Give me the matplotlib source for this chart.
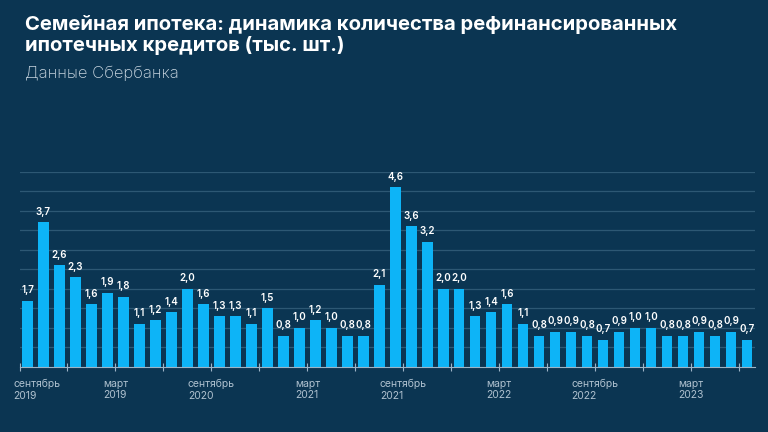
import matplotlib.pyplot as plt

# monthly values, September 2019 .. June 2023 (thousand loans)
values = [
    1.7, 3.7, 2.6, 2.3, 1.6, 1.9, 1.8, 1.1, 1.2, 1.4,
    2.0, 1.6, 1.3, 1.3, 1.1, 1.5, 0.8, 1.0, 1.2, 1.0,
    0.8, 0.8, 2.1, 4.6, 3.6, 3.2, 2.0, 2.0, 1.3, 1.4,
    1.6, 1.1, 0.8, 0.9, 0.9, 0.8, 0.7, 0.9, 1.0, 1.0,
    0.8, 0.8, 0.9, 0.8, 0.9, 0.7,
]

# period labels under the axis (every six months, as in the source)
period_labels = [
    "сентябрь\n2019", "март\n2019", "сентябрь\n2020", "март\n2021",
    "сентябрь\n2021", "март\n2022", "сентябрь\n2022", "март\n2023",
]

title = "Семейная ипотека: динамика количества рефинансированных\nипотечных кредитов (тыс. шт.)"
subtitle = "Данные Сбербанка"

bg = "#0b3552"
bar_color = "#0db4f7"
grid_color = "#2d5874"

plt.rcParams["font.family"] = ["Inter", "DejaVu Sans"]

fig = plt.figure(figsize=(7.68, 4.32), dpi=100)
fig.patch.set_facecolor(bg)

ax = fig.add_axes([0.0254, 0.1505, 0.9577, 0.452])
ax.set_facecolor("none")

x = list(range(len(values)))
ax.bar(x, values, width=0.66, color=bar_color, zorder=3)

for xi, v in zip(x, values):
    ax.annotate(
        f"{v:.1f}".replace(".", ","),
        (xi, v),
        xytext=(0, 4),
        textcoords="offset points",
        ha="center",
        va="bottom",
        color="white",
        fontsize=7.1,
        fontweight="semibold",
        zorder=4,
        clip_on=False,
    )

ax.set_xlim(-0.5, len(values) - 0.5)
ax.set_ylim(0, 5)

ax.set_yticks([i * 0.5 for i in range(1, 11)])
ax.yaxis.grid(True, color=grid_color, linewidth=0.9, zorder=0)
ax.tick_params(axis="y", left=False, labelleft=False)

ax.set_xticks([i - 0.5 for i in range(0, len(values), 3)])
ax.tick_params(
    axis="x",
    direction="inout",
    length=6,
    width=0.8,
    color="#9db4c6",
    labelbottom=False,
)

for s in ["top", "right", "left"]:
    ax.spines[s].set_visible(False)
ax.spines["bottom"].set_color("#9db4c6")
ax.spines["bottom"].set_linewidth(0.8)
ax.spines["bottom"].set_zorder(5)

for i, lab in enumerate(period_labels):
    pos = i * 6 - 0.5
    ha = "center"
    if i == 0:
        pos = -0.9
        ha = "left"
    ax.text(
        pos,
        -0.3,
        lab,
        ha=ha,
        va="top",
        multialignment="left",
        color="#afc1cf",
        fontsize=7.5,
        linespacing=1.2,
    )

fig.text(
    0.033, 0.965,
    title,
    ha="left",
    va="top",
    color="white",
    fontsize=14.6,
    fontweight="bold",
    linespacing=1.12,
)

fig.text(
    0.033, 0.848,
    subtitle,
    ha="left",
    va="top",
    color="#c9d6e0",
    fontsize=12,
    fontweight="light",
)

fig.savefig("out.png", dpi=100, facecolor=bg)
